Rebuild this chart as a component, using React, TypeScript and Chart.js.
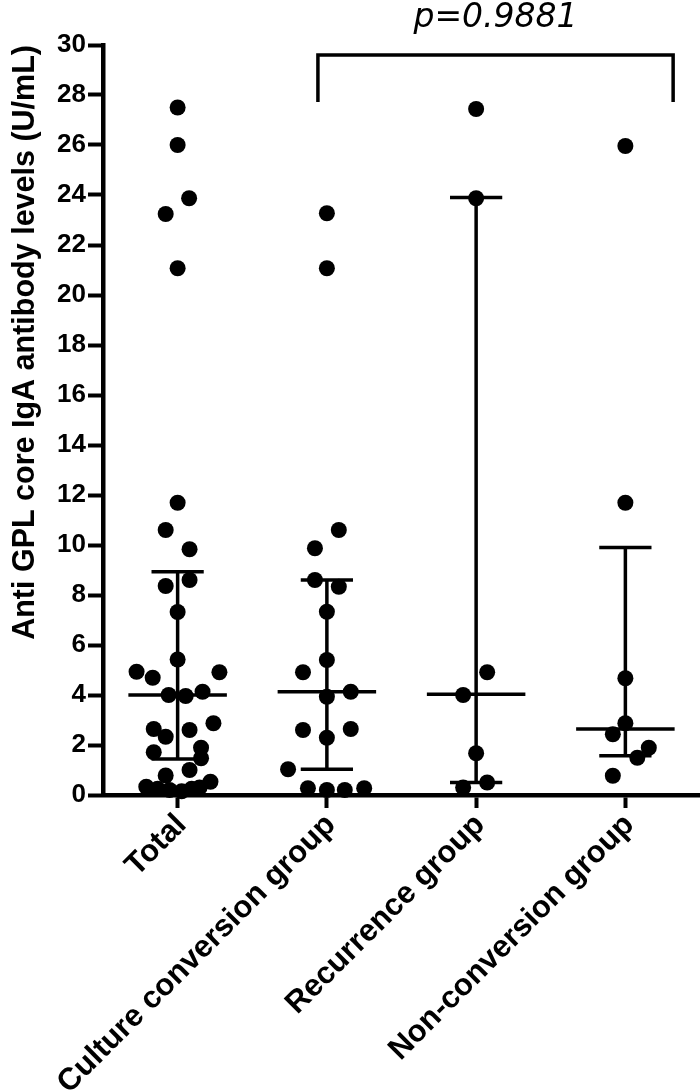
import React, { useEffect, useRef } from "react";
import { Chart, registerables } from "chart.js";

Chart.register(...registerables);

const CATEGORIES = ["Total", "Culture conversion group", "Recurrence group", "Non-conversion group"];
const Y_TICKS = [0, 2, 4, 6, 8, 10, 12, 14, 16, 18, 20, 22, 24, 26, 28, 30];
const Y_TITLE = "Anti GPL core IgA antibody levels (U/mL)";
const P_VALUE_LABEL = "p=0.9881";

// values per group, with horizontal scatter offsets (category units)
const TOTAL_VALUES = [27.5, 26.0, 23.87, 23.24, 21.07, 11.69, 10.6, 9.83, 8.6, 8.36, 7.32, 5.42, 4.93, 4.69, 4.91, 4.0, 3.96, 4.13, 2.64, 2.33, 2.6, 2.87, 1.71, 1.89, 1.47, 1.0, 0.78, 0.53, 0.33, 0.25, 0.2, 0.15, 0.25, 0.3];
const TOTAL_JITTER = [0, 0, 0.077, -0.08, 0, 0, -0.08, 0.08, 0.08, -0.08, 0, 0, -0.275, -0.167, 0.28, -0.06, 0.054, 0.167, -0.16, -0.08, 0.08, 0.24, -0.16, 0.157, 0.157, 0.08, -0.08, 0.22, -0.21, -0.134, -0.054, 0.027, 0.094, 0.147];

const CULTURE_VALUES = [23.27, 21.07, 10.6, 9.87, 8.6, 8.33, 7.33, 5.4, 4.91, 4.13, 3.93, 2.6, 2.64, 2.29, 1.03, 0.27, 0.2, 0.2, 0.27];
const CULTURE_JITTER = [0, 0, 0.08, -0.08, -0.08, 0.08, 0, 0, -0.16, 0.16, 0, -0.16, 0.16, 0, -0.26, -0.127, 0, 0.12, 0.25];

const RECURRENCE_VALUES = [27.44, 23.87, 4.91, 4.0, 1.67, 0.5, 0.3];
const RECURRENCE_JITTER = [0, 0, 0.074, -0.087, 0, 0.074, -0.087];

const NONCONV_VALUES = [25.96, 11.69, 4.67, 2.87, 2.43, 1.89, 1.49, 0.77];
const NONCONV_JITTER = [0, 0, 0, 0, -0.084, 0.157, 0.08, -0.084];

const MEDIANS = [4.0, 4.13, 4.03, 2.64];
const Q1 = [1.44, 1.03, 0.5, 1.57];
const Q3 = [8.93, 8.6, 23.9, 9.9];

// comparison bracket (x in category units, y in U/mL)
const BRACKET_X = [0.94, 3.32];
const BRACKET_Y = [27.72, 29.6];

const FONT = "'Liberation Sans', Arial, sans-serif";

export default function App() {
  const ref = useRef<HTMLCanvasElement | null>(null);

  useEffect(() => {
    if (!ref.current) return;
    const groups = [
      [TOTAL_VALUES, TOTAL_JITTER],
      [CULTURE_VALUES, CULTURE_JITTER],
      [RECURRENCE_VALUES, RECURRENCE_JITTER],
      [NONCONV_VALUES, NONCONV_JITTER],
    ];
    const datasets: any[] = [];
    const lineStyle = {
      showLine: true,
      borderColor: "#000",
      borderWidth: 3.5,
      pointRadius: 0,
      backgroundColor: "#000",
      clip: false,
      borderCapStyle: "butt",
    };
    groups.forEach(([vals, jit], i) => {
      datasets.push({
        data: (vals as number[]).map((v, k) => ({ x: i + (jit as number[])[k], y: v })),
        pointRadius: 8,
        pointBorderWidth: 0,
        backgroundColor: "#000",
        borderColor: "#000",
        showLine: false,
        clip: false,
      });
      const medHalf = 0.33;
      const capHalf = 0.175;
      datasets.push({ ...lineStyle, data: [{ x: i - medHalf, y: MEDIANS[i] }, { x: i + medHalf, y: MEDIANS[i] }] });
      datasets.push({ ...lineStyle, data: [{ x: i - capHalf, y: Q1[i] }, { x: i + capHalf, y: Q1[i] }] });
      datasets.push({ ...lineStyle, data: [{ x: i - capHalf, y: Q3[i] }, { x: i + capHalf, y: Q3[i] }] });
      datasets.push({ ...lineStyle, data: [{ x: i, y: Q1[i] }, { x: i, y: Q3[i] }] });
    });
    datasets.push({
      ...lineStyle,
      borderWidth: 3.5,
      borderJoinStyle: "miter",
      data: [
        { x: BRACKET_X[0], y: BRACKET_Y[0] },
        { x: BRACKET_X[0], y: BRACKET_Y[1] },
        { x: BRACKET_X[1], y: BRACKET_Y[1] },
        { x: BRACKET_X[1], y: BRACKET_Y[0] },
      ],
    });

    const pLabelPlugin = {
      id: "pLabel",
      afterDraw(chart: any) {
        const { ctx, scales } = chart;
        const x = scales.x.getPixelForValue((BRACKET_X[0] + BRACKET_X[1]) / 2);
        const y = scales.y.getPixelForValue(30) - 18;
        ctx.save();
        ctx.fillStyle = "#000";
        ctx.font = "italic 33px 'DejaVu Sans', sans-serif";
        ctx.textAlign = "center";
        ctx.textBaseline = "alphabetic";
        ctx.fillText(P_VALUE_LABEL, x, y);
        ctx.restore();
      },
    };

    const chart = new Chart(ref.current, {
      type: "scatter",
      data: { datasets },
      plugins: [pLabelPlugin],
      options: {
        animation: false,
        responsive: false,
        events: [],
        layout: { autoPadding: false, padding: { top: 45, left: 0, right: 0, bottom: 0 } },
        plugins: { legend: { display: false }, tooltip: { enabled: false } },
        scales: {
          x: {
            type: "linear",
            min: -0.5,
            max: 3.5,
            afterBuildTicks: (s: any) => {
              s.ticks = CATEGORIES.map((_, i) => ({ value: i }));
            },
            afterFit: (s: any) => {
              s.height = 296;
              s.paddingLeft = 0;
              s.paddingRight = 0;
            },
            ticks: {
              callback: (v: any) => CATEGORIES[Math.round(Number(v))],
              minRotation: 45,
              maxRotation: 45,
              autoSkip: false,
              color: "#000",
              padding: -1,
              labelOffset: 4,
              font: { family: FONT, size: 31, weight: "bold" },
            },
            grid: { display: true, drawOnChartArea: false, drawTicks: true, tickLength: 13, tickWidth: 4, color: "#000" },
            border: { display: true, width: 4.5, color: "#000" },
          },
          y: {
            min: 0,
            max: 30,
            afterBuildTicks: (s: any) => {
              s.ticks = Y_TICKS.map((v) => ({ value: v }));
            },
            afterFit: (s: any) => {
              s.width = 103;
              s.paddingTop = 0;
              s.paddingBottom = 0;
            },
            ticks: {
              color: "#000",
              padding: 2,
              font: { family: FONT, size: 26, weight: "bold" },
            },
            grid: { display: true, drawOnChartArea: false, drawTicks: true, tickLength: 15, tickWidth: 4, color: "#000" },
            border: { display: true, width: 4.5, color: "#000" },
            title: {
              display: true,
              text: Y_TITLE,
              align: "end",
              color: "#000",
              padding: { top: 7, bottom: 0 },
              font: { family: FONT, size: 30.5, weight: "bold" },
            },
          },
        },
      } as any,
    });
    return () => chart.destroy();
  }, []);

  return (
    <div style={{ position: "absolute", left: 0, top: 0, width: 700, height: 1091, background: "#fff" }}>
      <canvas ref={ref} width={700} height={1091} style={{ display: "block", width: 700, height: 1091 }} />
    </div>
  );
}
